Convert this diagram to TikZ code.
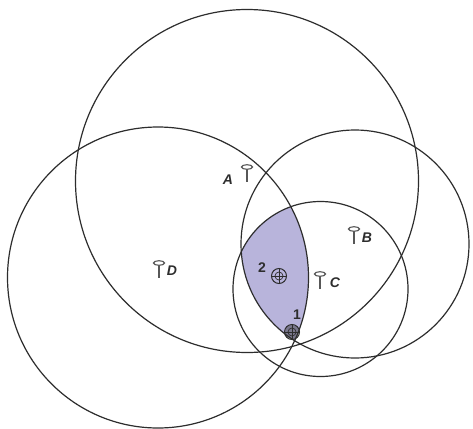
\documentclass[tikz,border=0pt]{standalone}
\usepackage{fontspec}
\setmainfont{Liberation Sans}
\usepackage{xcolor}
\definecolor{regionLilac}{RGB}{184,180,219}
\definecolor{inkGrey}{RGB}{45,45,45}

\begin{document}
\begin{tikzpicture}[
    x=1pt, y=-1pt,
    every node/.style={font=\bfseries\itshape\fontsize{14}{14}\selectfont, text=inkGrey, inner sep=0pt},
    rangecircle/.style={draw=inkGrey, line width=1.2pt},
    numlabel/.style={font=\bfseries\fontsize{14}{14}\selectfont},
    antenna/.pic={
        \draw[inkGrey!80, line width=1.3pt] (0,0) -- (0,15);
        \draw[inkGrey!80, fill=white, line width=1.1pt] (0,0) ellipse [x radius=5.5, y radius=2.3];
    },
    target/.pic={
        \draw[inkGrey, line width=1pt] (0,0) circle [radius=7.5];
        \draw[inkGrey, line width=0.7pt] (0,0) circle [radius=4];
        \draw[inkGrey, line width=0.7pt] (-7.5,0) -- (7.5,0) (0,-7.5) -- (0,7.5);
    }
]
\useasboundingbox[fill=white] (0,0) rectangle (473,428);

% Shaded overlap
\begin{scope}
    \clip (158,277.5) circle [radius=150.5];
    \clip (320.5,289) circle [radius=87.5];
    \fill[regionLilac] (355,244) circle [radius=114];
\end{scope}

% Range circles
\draw[rangecircle] (247,181) circle [radius=171.5];
\draw[rangecircle] (355,244) circle [radius=114];
\draw[rangecircle] (320.5,289) circle [radius=87.5];
\draw[rangecircle] (158,277.5) circle [radius=150.5];

% Stations
\pic at (247,167) {antenna};
\pic at (354,229) {antenna};
\pic at (320,274) {antenna};
\pic at (159,263) {antenna};
\node (labelA) at (228,180) {A};
\node (labelB) at (367,238) {B};
\node (labelC) at (335,283) {C};
\node (labelD) at (172,271) {D};

% Fixes
\pic at (279,276) {target};
\pic at (292,332) {target};
\fill[inkGrey, opacity=0.45] (292,332) circle [radius=7];
\node[numlabel] (labelTwo) at (262,268) {2};
\node[numlabel] (labelOne) at (297,315) {1};

\end{tikzpicture}
\end{document}
